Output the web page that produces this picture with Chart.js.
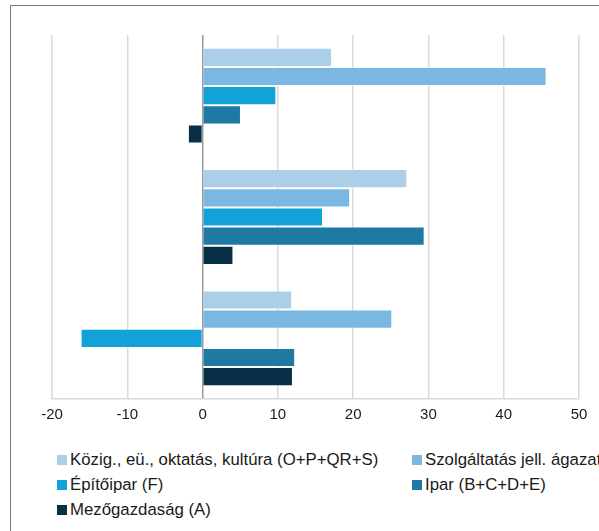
<!DOCTYPE html>
<html>
<head>
    <meta charset="UTF-8">
    <title>Ágazatok</title>
    <script src="https://cdn.jsdelivr.net/npm/chart.js"></script>
    <style>
        body {
            margin: 0;
            padding: 0;
            width: 599px;
            height: 531px;
            overflow: hidden;
            background-color: #FFFFFF;
            font-family: 'Liberation Sans', Arial, sans-serif;
            position: relative;
        }

        .frame {
            position: absolute;
            left: 10px;
            top: 5px;
            width: 700px;
            height: 600px;
            border: 1.5px solid #7a7a7a;
        }

        .chart-container {
            position: absolute;
            left: 0;
            top: 0;
            width: 599px;
            height: 440px;
        }

        .legend {
            position: absolute;
            left: 57px;
            top: 449px;
            width: 560px;
            display: grid;
            grid-template-columns: 355px 300px;
            row-gap: 3px;
            font-size: 16.8px;
            color: #1a1a1a;
            white-space: nowrap;
        }

        .legend span.box {
            display: inline-block;
            width: 10px;
            height: 10px;
            margin-right: 3px;
            vertical-align: 0px;
        }

        .legend div {
            height: 22px;
            line-height: 22px;
        }
    </style>
</head>
<body>
<div class="frame"></div>
<div class="chart-container">
    <canvas id="sector-chart"></canvas>
</div>
<div class="legend" id="legend"></div>

<script>
    // adatok
    const categories = ['2016', '2017', '2018'];
    const seriesNames = [
        'Közig., eü., oktatás, kultúra (O+P+QR+S)',
        'Szolgáltatás jell. ágazatok (G+H+I+J+K+L+M+N)',
        'Építőipar (F)',
        'Ipar (B+C+D+E)',
        'Mezőgazdaság (A)'
    ];
    const kozig = [17.2, 27.2, 11.9];
    const szolg = [45.7, 19.6, 25.2];
    const epito = [9.8, 16.0, -16.2];
    const ipar = [5.1, 29.5, 12.3];
    const mezo = [-1.95, 4.1, 12.0];
    const colors = ['#ABCFE9', '#7AB8E1', '#12A2D8', '#1E7AA3', '#072F45'];

    const values = [kozig, szolg, epito, ipar, mezo];

    const ctx = document.getElementById('sector-chart').getContext('2d');
    new Chart(ctx, {
        type: 'bar',
        data: {
            labels: categories,
            datasets: values.map((v, i) => ({
                label: seriesNames[i],
                data: v,
                backgroundColor: colors[i],
                borderColor: 'rgba(255,255,255,0.45)',
                borderWidth: 1,
                categoryPercentage: 0.79,
                barPercentage: 1
            }))
        },
        options: {
            indexAxis: 'y',
            responsive: true,
            maintainAspectRatio: false,
            animation: false,
            layout: {
                padding: { left: 52, right: 20, top: 35, bottom: 9 }
            },
            plugins: {
                legend: { display: false },
                tooltip: { enabled: false }
            },
            scales: {
                x: {
                    min: -20,
                    max: 50,
                    ticks: {
                        stepSize: 10,
                        color: '#1a1a1a',
                        padding: 7,
                        font: { family: "'Liberation Sans', Arial", size: 15 }
                    },
                    grid: {
                        drawTicks: false,
                        lineWidth: 1.5,
                        color: c => c.tick && c.tick.value === 0 ? '#9a9a9a' : '#d9d9d9'
                    },
                    border: { display: true, color: '#d9d9d9', width: 1.5 }
                },
                y: {
                    display: false
                }
            }
        }
    });

    // legend két oszlopban
    const legend = document.getElementById('legend');
    seriesNames.forEach((name, i) => {
        const item = document.createElement('div');
        item.innerHTML = '<span class="box" style="background:' + colors[i] + '"></span>' + name;
        legend.appendChild(item);
    });
</script>
</body>
</html>
